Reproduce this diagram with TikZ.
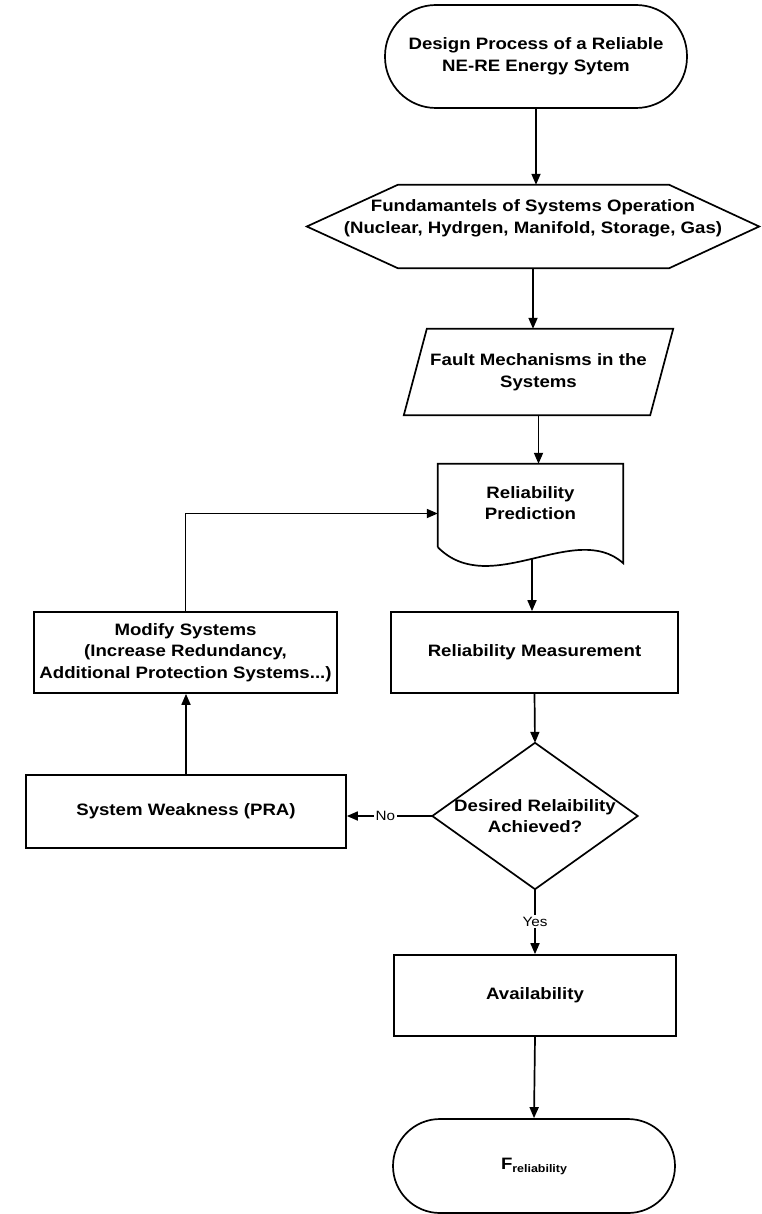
\documentclass[tikz,border=0pt]{standalone}
\usepackage{fontspec}
\setmainfont{Liberation Sans}[FakeStretch=1.13]
\usetikzlibrary{arrows.meta,calc}

\tikzset{
  line/.style={line width=1.7pt},
  arr/.style={line, -{Triangle[length=11pt,width=9pt]}},
  txt/.style={align=center, inner sep=0pt, font=\fontsize{16.5}{21.7}\selectfont\bfseries},
  boxnode/.style={txt, draw, line, minimum width=#1},
  termnode/.style={txt, draw, line, minimum width=#1, rounded corners=47pt},
  lbl/.style={fill=white, inner sep=1.5pt, font=\fontsize{13.5}{15}\selectfont}
}

\begin{document}
\begin{tikzpicture}[x=1pt,y=-1pt]
    \useasboundingbox (0,0) rectangle (761,1214);

    % 開始
    \node[termnode=302pt, minimum height=103pt, rounded corners=51pt] (start) at (536,56.5)
        {Design Process of a Reliable\\NE-RE Energy Sytem};

    % 六角形
    \node[txt, minimum width=452pt, minimum height=83pt] (fund) at (533,226.5)
        {Fundamantels of Systems Operation\\(Nuclear, Hydrgen, Manifold, Storage, Gas)\rule[-20pt]{0pt}{0pt}};
    \draw[line] (fund.west) -- ($(fund.north west)+(91,0)$) -- ($(fund.north east)+(-90,0)$)
        -- (fund.east) -- ($(fund.south east)+(-90,0)$) -- ($(fund.south west)+(91,0)$) -- cycle;

    % 平行四辺形
    \node[txt, minimum width=246pt, minimum height=86pt] (fault) at (538.5,372)
        {Fault Mechanisms in the\\Systems};
    \draw[line] ($(fault.north west)+(11.5,0)$) -- ($(fault.north east)+(11.5,0)$)
        -- ($(fault.south east)+(-11.5,0)$) -- ($(fault.south west)+(-11.5,0)$) -- cycle;

    % 書類
    \node[txt, minimum width=185pt, minimum height=83pt] (pred) at (530.5,505.5)
        {Reliability\\Prediction\rule[-5pt]{0pt}{0pt}};
    \draw[line] (pred.south west) -- (pred.north west) -- (pred.north east)
        -- ($(pred.south east)+(0,16)$) .. controls (575,520) and (490,600) .. (pred.south west)
        coordinate[pos=0.5] (wave);

    % 四角形
    \node[boxnode=287pt, minimum height=81pt] (meas) at (534.5,652.5) {Reliability Measurement};
    \node[boxnode=303pt, minimum height=81pt] (modify) at (185.5,652.5)
        {Modify Systems\\(Increase Redundancy,\\Additional Protection Systems...)};
    \node[boxnode=320pt, minimum height=73pt] (weak) at (186,811.5) {System Weakness (PRA)};
    \node[boxnode=282pt, minimum height=81pt] (avail) at (535,995.5) {Availability};

    % 判断
    \node[txt, minimum width=205pt, minimum height=146pt] (desired) at (535,816)
        {Desired Relaibility\\Achieved?};
    \draw[line] (desired.north) -- (desired.east) -- (desired.south) -- (desired.west) -- cycle;

    % 終了
    \node[termnode=282pt, minimum height=94pt] (final) at (534,1166)
        {F{\fontsize{11}{12}\selectfont\raisebox{-3pt}{reliability}}};

    % 矢印
    \draw[arr] (start.south) -- (start.south |- fund.north);
    \draw[arr] (fund.south) -- (fund.south |- fault.north);
    \draw[arr] (fault.south) -- (fault.south |- pred.north);
    \draw[arr] (wave) -- (wave |- meas.north);
    \draw[arr] (meas.south) -- (desired.north);
    \draw[arr] (desired.west) -- node[lbl, pos=0.55] {No} (desired.west -| weak.east);
    \draw[arr] (weak.north) -- (weak.north |- modify.south);
    \draw[arr] (modify.north) |- ($(pred.west)+(0,8)$);
    \draw[arr] (desired.south) -- node[lbl] {Yes} (avail.north);
    \draw[arr] (avail.south) -- (final.north);

  \end{tikzpicture}
\end{document}
